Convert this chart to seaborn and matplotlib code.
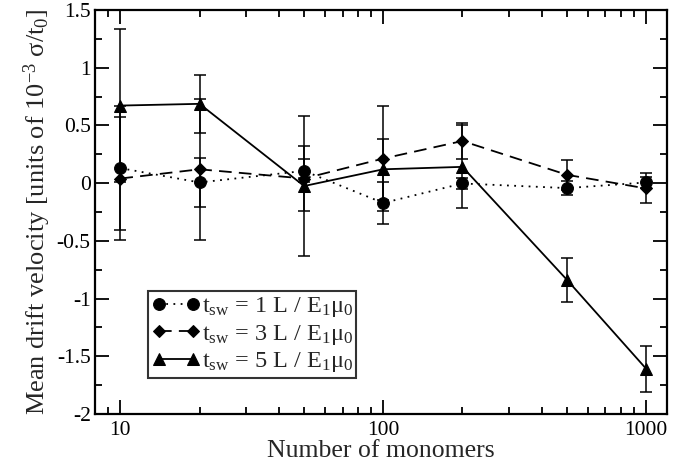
import numpy as np
import pandas as pd
import matplotlib
matplotlib.use("Agg")
import matplotlib.pyplot as plt
from matplotlib.ticker import FixedLocator, FixedFormatter, MultipleLocator, LogLocator, NullFormatter
import seaborn as sns

# Chain lengths (number of monomers)
monomers = [10, 20, 50, 100, 200, 500, 1000]

# Mean drift velocity (units of 1e-3 sigma/t0) and error bars per switching time
v_tsw1 = [0.13, 0.006, 0.106, -0.172, -0.003, -0.043, 0.006]
e_tsw1 = [0.54, 0.21, 0.10, 0.18, 0.05, 0.06, 0.05]

v_tsw3 = [0.04, 0.12, 0.04, 0.213, 0.365, 0.072, -0.046]
e_tsw3 = [0.53, 0.61, 0.285, 0.454, 0.155, 0.13, 0.13]

v_tsw5 = [0.672, 0.687, -0.025, 0.12, 0.141, -0.838, -1.608]
e_tsw5 = [0.66, 0.25, 0.61, 0.265, 0.36, 0.19, 0.20]

labels = [
    r"$\mathrm{t_{sw}}$ = 1 L / E$_\mathrm{1}\mathrm{\mu}_\mathrm{0}$",
    r"$\mathrm{t_{sw}}$ = 3 L / E$_\mathrm{1}\mathrm{\mu}_\mathrm{0}$",
    r"$\mathrm{t_{sw}}$ = 5 L / E$_\mathrm{1}\mathrm{\mu}_\mathrm{0}$",
]

y_ticks = [-2, -1.5, -1, -0.5, 0, 0.5, 1, 1.5]
y_ticklabels = ["-2", "-1.5", "-1", "-0.5", "0", "0.5", "1", "1.5"]
x_ticks = [10, 100, 1000]
x_ticklabels = ["10", "100", "1000"]

sns.set_style("ticks")
plt.rcParams["font.family"] = ["Liberation Serif", "DejaVu Serif"]
plt.rcParams["mathtext.fontset"] = "custom"
plt.rcParams["mathtext.rm"] = "Liberation Serif"
plt.rcParams["mathtext.it"] = "Liberation Serif:italic"
plt.rcParams["mathtext.bf"] = "Liberation Serif:bold"

fig = plt.figure(figsize=(6.73, 4.65), dpi=100)
ax = fig.add_axes([0.141, 0.1097, 0.850, 0.8688])

series = [
    (v_tsw1, e_tsw1, "o", 8.5, (0, (1, 3)), labels[0]),
    (v_tsw3, e_tsw3, "D", 6, (0, (7, 4)), labels[1]),
    (v_tsw5, e_tsw5, "^", 9, "-", labels[2]),
]

for vals, errs, mk, ms, ls, lab in series:
    df = pd.DataFrame({"N": monomers, "v": vals, "err": errs})
    ax.errorbar(df["N"], df["v"], yerr=df["err"], fmt="none", ecolor="black",
                elinewidth=1.1, capsize=4.5, capthick=1.1, zorder=2)
    sns.lineplot(data=df, x="N", y="v", ax=ax, color="black", marker=mk,
                 markersize=ms, markeredgecolor="black", markerfacecolor="black",
                 linestyle=ls, linewidth=1.3, errorbar=None, label=lab, zorder=3)

ax.set_xscale("log")
ax.set_xlim(8, 1200)
ax.set_ylim(-2, 1.5)

ax.xaxis.set_major_locator(FixedLocator(x_ticks))
ax.xaxis.set_major_formatter(FixedFormatter(x_ticklabels))
ax.xaxis.set_minor_locator(LogLocator(base=10, subs=np.arange(2, 10)))
ax.xaxis.set_minor_formatter(NullFormatter())
ax.yaxis.set_major_locator(FixedLocator(y_ticks))
ax.yaxis.set_major_formatter(FixedFormatter(y_ticklabels))
ax.yaxis.set_minor_locator(MultipleLocator(0.25))

ax.tick_params(which="both", direction="in", top=True, right=True,
               colors="black", width=1.3, labelsize=15.5)
ax.tick_params(which="major", length=10)
ax.tick_params(axis="y", which="major", pad=3)
ax.tick_params(axis="x", which="major", pad=5)
ax.tick_params(which="minor", length=5)
for sp in ax.spines.values():
    sp.set_linewidth(1.6)
    sp.set_color("black")

ax.set_xlabel("Number of monomers", fontsize=18.5, labelpad=0)
ax.set_ylabel(r"Mean drift velocity [units of 10$^{-3}$ $\mathrm{\sigma}$/t$_\mathrm{0}$]",
              fontsize=19, labelpad=3)

leg = ax.legend(loc="lower left", bbox_to_anchor=(0.093, 0.089), borderaxespad=0,
                numpoints=2, fontsize=17.5, frameon=True, fancybox=False,
                handlelength=2.0, handletextpad=0.05, labelspacing=0.15,
                borderpad=0.15)
leg.get_frame().set_edgecolor("black")
leg.get_frame().set_linewidth(1.5)

fig.savefig("out.png", dpi=100)
